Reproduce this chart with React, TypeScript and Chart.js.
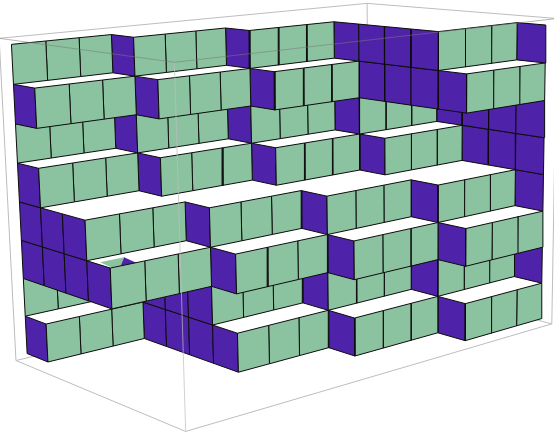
import React, { useEffect, useRef } from "react";
import { Chart, registerables } from "chart.js";

Chart.register(...registerables);

// Front-face depth per column (13th entry = side wall at the x=12 cut), layer 1 (bottom) .. layer 8 (top)
const layer1 = [1, 1, 1, 5, 5, 5, 6, 6, 6, 7, 7, 7, 7];
const layer2 = [0, 0, 0, 4, 4, 4, 5, 5, 5, 6, 6, 6, 7];
const layer3 = [4, 4, 4, 5, 5, 5, 6, 6, 6, 7, 7, 7, 7];
const layer4 = [3, 3, 3, 4, 4, 4, 5, 5, 5, 6, 6, 6, 7];
const layer5 = [1, 1, 1, 2, 2, 2, 3, 3, 3, 4, 4, 4, 7];
const layer6 = [0, 0, 0, 1, 1, 1, 2, 2, 2, 3, 3, 3, 7];
const layer7 = [1, 1, 1, 2, 2, 2, 3, 3, 3, 7, 7, 7, 7];
const layer8 = [0, 0, 0, 1, 1, 1, 2, 2, 2, 6, 6, 6, 7];
const layers = [layer1, layer2, layer3, layer4, layer5, layer6, layer7, layer8];

// Small notch in the top of layer 3 (x, depth on that plane)
const notchGreen = [[0.15, 3.35], [0.85, 3.35], [0.3, 4], [0.05, 4]];
const notchPurple = [[0.85, 3.35], [0.75, 4], [0.3, 4]];

// Bounding box extents in grid units
const boxX = [-0.2, 12.35];
const boxD = [-0.24, 7.08];
const boxZ = [-0.2, 8.15];

// Camera calibration: grid point (x, depth, z) -> view coordinate
const calibration = [
  [0, 0, 8, 11, 44], [3, 0, 8, 111.7, 34.3], [3, 1, 8, 133.3, 37.3], [6, 1, 8, 225, 27.7],
  [6, 2, 8, 250, 30.7], [9, 2, 8, 334, 22], [9, 6, 8, 439, 32], [12, 6, 8, 517, 22.7], [12, 7, 8, 545, 25],
  [0, 0, 7, 13.3, 84.3], [0, 1, 7, 35, 88.3], [0, 1, 6, 36.7, 128.3], [12, 7, 7, 545, 63], [12, 7, 6, 545.3, 100],
  [0, 0, 4, 19.3, 202.7], [0, 3, 4, 85, 220], [0, 0, 3, 21.7, 241], [0, 3, 3, 86.7, 260.7],
  [12, 7, 4, 543.7, 174.3], [12, 7, 3, 542.7, 211],
  [0, 0, 1, 25.7, 316.7], [0, 1, 1, 46.7, 323], [0, 0, 0, 26.7, 353.3], [0, 1, 0, 47.7, 361.7],
  [3, 1, 0, 144, 338.3], [3, 5, 0, 238.3, 372.7], [6, 5, 0, 328.7, 348], [6, 6, 0, 354.7, 355.7],
  [9, 7, 0, 465.3, 340.7], [12, 7, 0, 541.3, 319],
];

const GREEN = "#8bc3a0";
const PURPLE = "#4f22aa";
const WHITE = "#ffffff";
const EDGE = "#0c0c0c";

function solve(A: number[][], b: number[]) {
  const n = b.length;
  const M = A.map((r, i) => [...r, b[i]]);
  for (let c = 0; c < n; c++) {
    let p = c;
    for (let r = c + 1; r < n; r++) if (Math.abs(M[r][c]) > Math.abs(M[p][c])) p = r;
    [M[c], M[p]] = [M[p], M[c]];
    for (let r = 0; r < n; r++) {
      if (r === c) continue;
      const k = M[r][c] / M[c][c];
      for (let j = c; j <= n; j++) M[r][j] -= k * M[c][j];
    }
  }
  return M.map((r, i) => r[n] / r[i]);
}

function fitCamera() {
  const rows: number[][] = [];
  const rhs: number[] = [];
  for (const [x, d, z, u, v] of calibration) {
    const uu = u / 100, vv = v / 100;
    rows.push([x, d, z, 1, 0, 0, 0, 0, -uu * x, -uu * d, -uu * z]);
    rhs.push(uu);
    rows.push([0, 0, 0, 0, x, d, z, 1, -vv * x, -vv * d, -vv * z]);
    rhs.push(vv);
  }
  const ata = Array.from({ length: 11 }, (_, i) =>
    Array.from({ length: 11 }, (_, j) => rows.reduce((s, r) => s + r[i] * r[j], 0))
  );
  const atb = Array.from({ length: 11 }, (_, i) => rows.reduce((s, r, k) => s + r[i] * rhs[k], 0));
  return solve(ata, atb);
}

export default function App() {
  const ref = useRef<HTMLCanvasElement>(null);
  useEffect(() => {
    const h = fitCamera();
    const project = (x: number, d: number, z: number) => {
      const w = h[8] * x + h[9] * d + h[10] * z + 1;
      return {
        x: (100 * (h[0] * x + h[1] * d + h[2] * z + h[3])) / w,
        y: (100 * (h[4] * x + h[5] * d + h[6] * z + h[7])) / w,
      };
    };
    const paint: any[] = [];
    const poly = (pts: number[][], color: string, stroke = true) => {
      const data = [...pts, pts[0]].map((p) => project(p[0], p[1], p[2]));
      paint.push({
        data,
        fill: "shape",
        backgroundColor: color,
        borderColor: stroke ? EDGE : "rgba(0,0,0,0)",
        borderWidth: stroke ? 1 : 0,
        pointRadius: 0,
        tension: 0,
        clip: false,
        parsing: false,
      });
    };
    const edge = (a: number[], b: number[], color: string) => {
      paint.push({
        data: [project(a[0], a[1], a[2]), project(b[0], b[1], b[2])],
        fill: false,
        borderColor: color,
        borderWidth: 1,
        pointRadius: 0,
        tension: 0,
        clip: false,
        parsing: false,
      });
    };
    const [x0, x1] = boxX, [d0, d1] = boxD, [z0, z1] = boxZ;
    const GREY = "#bdbdbd";
    const SOFT = "rgba(120,120,120,0.55)";
    // far edges, behind the blocks
    edge([x1, d0, z0], [x1, d0, z1], GREY);
    edge([x0, d0, z0], [x1, d0, z0], GREY);
    edge([x1, d0, z0], [x1, d1, z0], GREY);
    edge([x0, d0, z1], [x1, d0, z1], GREY);
    edge([x1, d0, z1], [x1, d1, z1], GREY);

    layers.forEach((f, li) => {
      const above = layers[li + 1];
      const top = li + 1;
      if (above) {
        for (let x = 0; x < 12; x++) {
          if (f[x] > above[x]) {
            poly([[x, above[x], top], [x + 1, above[x], top], [x + 1, f[x], top], [x, f[x], top]], WHITE, false);
          }
        }
      }
      if (li === 2) {
        poly(notchGreen.map((p) => [p[0], p[1], top]), GREEN, false);
        poly(notchPurple.map((p) => [p[0], p[1], top]), PURPLE, false);
      }
      for (let x = 12; x >= 0; x--) {
        const prev = x === 0 ? 0 : f[x - 1];
        for (let d = prev; d < f[x]; d++) {
          poly([[x, d, li], [x, d + 1, li], [x, d + 1, top], [x, d, top]], PURPLE);
        }
        if (x < 12) {
          poly([[x, f[x], li], [x + 1, f[x], li], [x + 1, f[x], top], [x, f[x], top]], GREEN);
        }
      }
    });

    // near edges, over the blocks
    edge([x0, d0, z0], [x0, d0, z1], GREY);
    edge([x1, d1, z0], [x1, d1, z1], GREY);
    edge([x0, d0, z0], [x0, d1, z0], GREY);
    edge([x0, d1, z0], [x1, d1, z0], GREY);
    edge([x0, d1, z0], [x0, d1, z1], "rgba(190,190,190,0.7)");
    edge([x0, d0, z1], [x0, d1, z1], SOFT);
    edge([x0, d1, z1], [x1, d1, z1], SOFT);

    document.body.style.margin = "0";
    const chart = new Chart(ref.current!, {
      type: "line",
      data: { datasets: paint.reverse() },
      options: {
        animation: false,
        responsive: false,
        events: [],
        layout: { padding: 0 },
        scales: {
          x: { type: "linear", min: 0, max: 554, display: false },
          y: { type: "linear", min: 0, max: 439, reverse: true, display: false },
        },
        plugins: {
          legend: { display: false },
          tooltip: { enabled: false },
          title: { display: false },
          filler: { drawTime: "beforeDatasetDraw", propagate: false },
        },
      } as any,
    });
    return () => chart.destroy();
  }, []);
  return <canvas ref={ref} width={554} height={439} style={{ display: "block" }} />;
}
